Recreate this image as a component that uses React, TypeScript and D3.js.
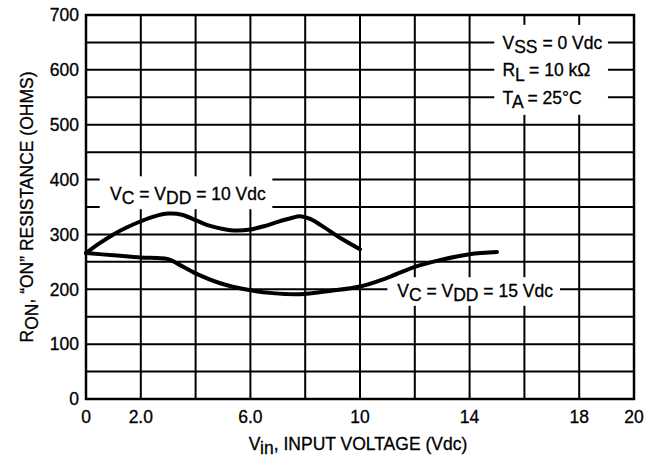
import * as d3 from "d3";

const W = 655;
const H = 459;
const M = { top: 15, right: 21, bottom: 60, left: 86 };

// V_C = V_DD = 10 Vdc
const vin10 = [0, 0.5, 1, 1.5, 2, 2.5, 3, 3.5, 4, 4.5, 5, 5.5, 6, 6.5, 7, 7.5, 7.8, 8.2, 8.6, 9.3, 10];
const ron10 = [266, 284, 300, 313, 324, 333, 338, 336, 326, 316, 310, 307, 309, 315, 323, 330, 333, 328, 316, 293, 273];

// V_C = V_DD = 15 Vdc
const vin15 = [0, 1, 2, 2.6, 3, 3.4, 4, 4.9, 5.9, 6.8, 7.8, 8.9, 10, 10.9, 12, 12.9, 14, 15];
const ron15 = [266, 262, 258, 257, 255, 245, 229, 211, 199, 193, 191, 197, 205, 219, 241, 253, 264, 268];

const xTickLabels = ["0", "2.0", "6.0", "10", "14", "18", "20"];
const xTickValues = [0, 2, 6, 10, 14, 18, 20];
const yTickValues = [0, 100, 200, 300, 400, 500, 600, 700];

const FONT = "'Liberation Sans', Arial, Helvetica, sans-serif";
const FS = 17.5;

// text with a same-size lowered subscript, as in the datasheet
function Sub({ main, sub, rest, shift = 4.5 }: { main: string; sub: string; rest?: string; shift?: number }) {
  return (
    <>
      <tspan>{main}</tspan>
      <tspan dy={shift}>{sub}</tspan>
      <tspan dy={-shift}>{rest ?? ""}</tspan>
    </>
  );
}

export default function App() {
  const x = d3.scaleLinear().domain([0, 20]).range([M.left, W - M.right]);
  const y = d3.scaleLinear().domain([0, 700]).range([H - M.bottom, M.top]);

  const line = d3
    .line<[number, number]>()
    .x((d) => x(d[0]))
    .y((d) => y(d[1]))
    .curve(d3.curveCatmullRom.alpha(0.5));

  const path10 = line(vin10.map((v, i) => [v, ron10[i]] as [number, number])) ?? "";
  const path15 = line(vin15.map((v, i) => [v, ron15[i]] as [number, number])) ?? "";

  const hGrid = d3.range(0, 701, 50);
  const vGrid = d3.range(0, 21, 2);

  // white knock-out boxes behind the annotations (data coords)
  const boxes = [
    { x0: 0.5, x1: 6.8, r0: 346, r1: 406 },
    { x0: 11.0, x1: 17.3, r0: 170, r1: 222 },
    { x0: 14.9, x1: 19.05, r0: 518, r1: 682 },
  ];

  return (
    <svg
      width={W}
      height={H}
      viewBox={`0 0 ${W} ${H}`}
      style={{ position: "absolute", left: 0, top: 0, background: "#fff" }}
      fontFamily={FONT}
      fontSize={FS}
    >
      <rect width={W} height={H} fill="#fff" />

      {/* grid */}
      {hGrid.map((r) => (
        <line key={`h${r}`} x1={x(0)} x2={x(20)} y1={y(r)} y2={y(r)} stroke="#000" strokeWidth={2} />
      ))}
      {vGrid.map((v) => (
        <line key={`v${v}`} x1={x(v)} x2={x(v)} y1={y(0)} y2={y(700)} stroke="#000" strokeWidth={2} />
      ))}

      {boxes.map((b, i) => (
        <rect
          key={i}
          x={x(b.x0)}
          y={y(b.r1)}
          width={x(b.x1) - x(b.x0)}
          height={y(b.r0) - y(b.r1)}
          fill="#fff"
        />
      ))}

      {/* frame */}
      <rect
        x={x(0)}
        y={y(700)}
        width={x(20) - x(0)}
        height={y(0) - y(700)}
        fill="none"
        stroke="#000"
        strokeWidth={2.5}
      />

      {/* curves */}
      <path d={path10} fill="none" stroke="#000" strokeWidth={4} strokeLinejoin="round" strokeLinecap="round" />
      <path d={path15} fill="none" stroke="#000" strokeWidth={4} strokeLinejoin="round" strokeLinecap="round" />

      <g fill="#000" stroke="#000" strokeWidth={0.3}>
        {/* y tick labels */}
        {yTickValues.map((t) => (
          <text key={`yt${t}`} x={M.left - 7} y={y(t)} dy="0.36em" textAnchor="end">
            {t}
          </text>
        ))}
        {/* x tick labels */}
        {xTickValues.map((t, i) => (
          <text key={`xt${t}`} x={x(t)} y={423} textAnchor="middle">
            {xTickLabels[i]}
          </text>
        ))}

        {/* axis titles */}
        <text x={x(10) - 2} y={450} textAnchor="middle">
          <Sub main="V" sub="in" rest=", INPUT VOLTAGE (Vdc)" shift={3.5} />
        </text>
        <text transform={`translate(33, ${(y(0) + y(700)) / 2}) rotate(-90)`} textAnchor="middle">
          <Sub main="R" sub="ON" rest={", \u201CON\u201D RESISTANCE (OHMS)"} />
        </text>

        {/* curve labels */}
        <text x={x(3.72)} y={y(363)} textAnchor="middle">
          <Sub main="V" sub="C" rest=" = " />
          <Sub main="V" sub="DD" rest=" = 10 Vdc" />
        </text>
        <text x={x(14.2)} y={y(186)} textAnchor="middle">
          <Sub main="V" sub="C" rest=" = " />
          <Sub main="V" sub="DD" rest=" = 15 Vdc" />
        </text>

        {/* conditions */}
        <text x={x(15.2)} y={y(650) + 6.5}>
          <Sub main="V" sub="SS" rest=" = 0 Vdc" />
        </text>
        <text x={x(15.2)} y={y(600) + 6.5}>
          <Sub main="R" sub="L" rest={" = 10 k\u03A9"} />
        </text>
        <text x={x(15.2)} y={y(550) + 6.5}>
          <Sub main="T" sub="A" rest={" = 25\u00B0C"} />
        </text>
      </g>
    </svg>
  );
}
